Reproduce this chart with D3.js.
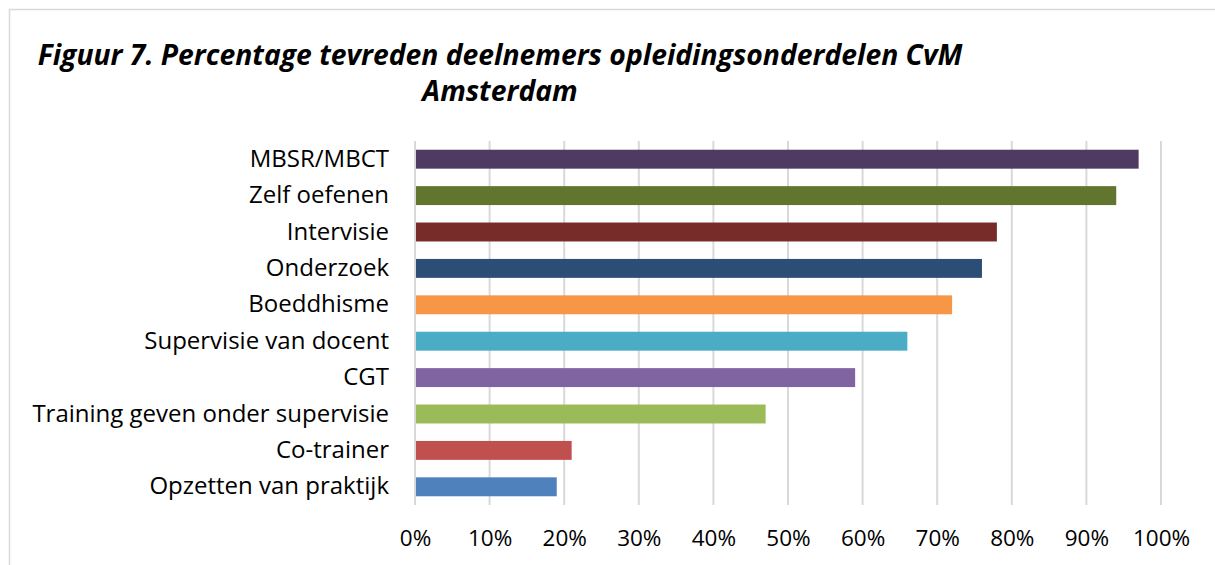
<!DOCTYPE html>
<html>
<head>
<meta charset="utf-8">
<script src="https://cdn.jsdelivr.net/npm/d3@7"></script>
<style>
  body { margin: 0; background: #fff; }
  svg { display: block; }
</style>
</head>
<body>
<div id="chart"></div>
<script>
// Data (top to bottom as drawn)
const categories = [
    "MBSR/MBCT",
    "Zelf oefenen",
    "Intervisie",
    "Onderzoek",
    "Boeddhisme",
    "Supervisie van docent",
    "CGT",
    "Training geven onder supervisie",
    "Co-trainer",
    "Opzetten van praktijk"
];
const values = [0.97, 0.94, 0.78, 0.76, 0.72, 0.66, 0.59, 0.47, 0.21, 0.19];
const barColors = ["#4f3b62", "#62752f", "#772c2a", "#2c4d75", "#f79646",
                   "#4bacc6", "#8064a2", "#9bbb59", "#c0504d", "#4f81bd"];
const tickValues = [0, 0.1, 0.2, 0.3, 0.4, 0.5, 0.6, 0.7, 0.8, 0.9, 1];
const titleLines = ["Figuur 7. Percentage tevreden deelnemers opleidingsonderdelen CvM", "Amsterdam"];

const width = 1215, height = 565;
const plot = { left: 415, right: 1161, top: 141, bottom: 505 };
const font = "'Open Sans', 'Noto Sans', sans-serif";

const svg = d3.select("#chart").append("svg")
    .attr("width", width)
    .attr("height", height);

// chart area border (only top and left visible in the frame)
svg.append("rect")
    .attr("x", 9.5).attr("y", 9.5)
    .attr("width", width + 20).attr("height", height + 20)
    .attr("fill", "#fff")
    .attr("stroke", "#d9d9d9")
    .attr("stroke-width", 1.5);

// Title
svg.append("text")
    .attr("x", 500)
    .attr("text-anchor", "middle")
    .style("font-family", font)
    .style("font-size", "28.3px")
    .style("font-weight", "bold")
    .style("font-style", "italic")
    .selectAll("tspan")
    .data(titleLines)
    .enter()
    .append("tspan")
    .attr("x", 500)
    .attr("y", (d, i) => 65 + i * 36)
    .text(d => d);

// Scales
const x = d3.scaleLinear().domain([0, 1]).range([plot.left, plot.right]);
const y = d3.scaleBand().domain(categories).range([plot.top, plot.bottom]).paddingInner(0.48).paddingOuter(0.24);

// Gridlines
svg.append("g")
    .selectAll("line")
    .data(tickValues)
    .enter()
    .append("line")
    .attr("x1", d => x(d)).attr("x2", d => x(d))
    .attr("y1", plot.top).attr("y2", plot.bottom)
    .attr("stroke", "#d9d9d9")
    .attr("stroke-width", 2);

// Bars
svg.append("g")
    .selectAll("rect")
    .data(values)
    .enter()
    .append("rect")
    .attr("x", x(0) + 1)
    .attr("y", (d, i) => y(categories[i]))
    .attr("width", d => x(d) - x(0) - 1)
    .attr("height", y.bandwidth())
    .attr("fill", (d, i) => barColors[i]);

// Category labels
const yAxis = d3.axisLeft(y).tickSize(0).tickPadding(0);
svg.append("g")
    .attr("transform", "translate(389,0)")
    .call(yAxis)
    .call(g => g.select(".domain").remove())
    .selectAll("text")
    .style("font-family", font)
    .style("font-size", "24px")
    .attr("fill", "#000");

// X axis labels
const xAxis = d3.axisBottom(x).tickValues(tickValues).tickSize(0).tickPadding(0)
    .tickFormat(d3.format(".0%"));
svg.append("g")
    .attr("transform", "translate(0,530)")
    .call(xAxis)
    .call(g => g.select(".domain").remove())
    .selectAll("text")
    .style("font-family", font)
    .style("font-size", "22.5px")
    .attr("fill", "#000");
</script>
</body>
</html>
